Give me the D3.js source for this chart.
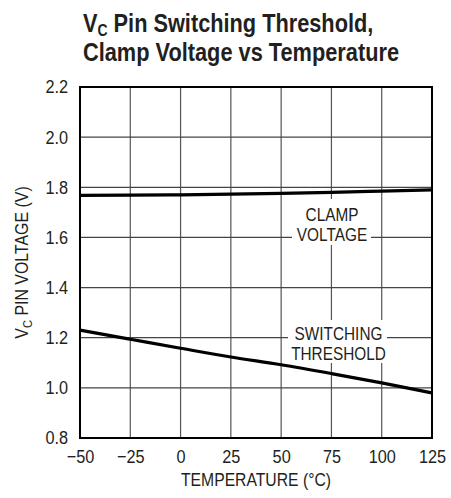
<!DOCTYPE html>
<html><head><meta charset="utf-8">
<script src="https://cdn.jsdelivr.net/npm/d3@7"></script>
<style>
html,body{margin:0;padding:0;background:#fff;}
svg{display:block;}
text{font-family:"Liberation Sans",Arial,Helvetica,sans-serif;fill:#231f20;}
</style></head>
<body>
<script>
const temps = [-50, -25, 0, 25, 50, 75, 100, 125];
const clampVoltage = [1.768, 1.769, 1.770, 1.773, 1.776, 1.780, 1.785, 1.790];
const switchingThreshold = [1.230, 1.194, 1.158, 1.123, 1.092, 1.057, 1.020, 0.980];
const xTicks = [-50, -25, 0, 25, 50, 75, 100, 125];
const yTicks = [0.8, 1.0, 1.2, 1.4, 1.6, 1.8, 2.0, 2.2];

const W = 451, H = 498;
const m = {left: 80, right: 19, top: 87, bottom: 60};
const svg = d3.select("body").append("svg").attr("width", W).attr("height", H);

const x = d3.scaleLinear().domain([-50, 125]).range([m.left, W - m.right]);
const y = d3.scaleLinear().domain([0.8, 2.2]).range([H - m.bottom, m.top]);

// grid
const grid = svg.append("g");
grid.selectAll(".vg").data(xTicks.slice(1, -1)).join("line")
  .attr("x1", d => x(d)).attr("x2", d => x(d))
  .attr("y1", y(2.2)).attr("y2", y(0.8))
  .attr("stroke", "#555").attr("stroke-width", 1.2);
grid.selectAll(".hg").data(yTicks.slice(1, -1)).join("line")
  .attr("x1", x(-50)).attr("x2", x(125))
  .attr("y1", d => y(d)).attr("y2", d => y(d))
  .attr("stroke", "#444").attr("stroke-width", 1.2);

// data lines
const line = d3.line().x((d, i) => x(temps[i])).y(d => y(d)).curve(d3.curveMonotoneX);
svg.append("path").datum(clampVoltage).attr("d", line)
  .attr("fill", "none").attr("stroke", "#000").attr("stroke-width", 3.2);
svg.append("path").datum(switchingThreshold).attr("d", line)
  .attr("fill", "none").attr("stroke", "#000").attr("stroke-width", 3.2);

// narrow text helper
function ntext(px, py, str, size, sx, anchor) {
  const g = svg.append("g").attr("transform", `translate(${px},${py}) scale(${sx},1)`);
  return g.append("text").attr("x", 0).attr("y", 0).attr("text-anchor", anchor || "middle")
    .style("font-size", size + "px").text(str);
}

// annotation masks + labels
function label(lines, cx, y0, gap, box) {
  svg.append("rect").attr("x", box[0]).attr("y", box[1]).attr("width", box[2]).attr("height", box[3]).attr("fill", "#fff");
  lines.forEach((t, i) => ntext(cx, y0 + i * gap, t, 18.5, 0.83));
}
label(["CLAMP", "VOLTAGE"], 332, 221, 20, [292, 199, 79, 46]);
label(["SWITCHING", "THRESHOLD"], 338.5, 339.5, 20.5, [288, 320, 99, 43]);

// frame
svg.append("rect").attr("x", x(-50)).attr("y", y(2.2))
  .attr("width", x(125) - x(-50)).attr("height", y(0.8) - y(2.2))
  .attr("fill", "none").attr("stroke", "#000").attr("stroke-width", 2);

// axes
const SX = 0.88;
const xAxis = svg.append("g").attr("transform", `translate(0,${y(0.8)})`)
  .call(d3.axisBottom(x).tickValues(xTicks).tickSize(0).tickPadding(12)
    .tickFormat(d => d < 0 ? "\u2212" + Math.abs(d) : d));
const yAxis = svg.append("g").attr("transform", `translate(${x(-50)},0)`)
  .call(d3.axisLeft(y).tickValues(yTicks).tickSize(0).tickPadding(12).tickFormat(d3.format(".1f")));
[xAxis, yAxis].forEach(a => {
  a.select(".domain").remove();
  a.attr("font-family", null).attr("font-size", null);
  a.selectAll("text").style("font-size", "18.5px").attr("fill", "#231f20")
    .attr("transform", `scale(${SX},1)`);
});
yAxis.selectAll("text").attr("x", -12 / SX);

// axis titles
svg.append("text").attr("x", (x(-50) + x(125)) / 2).attr("y", 486).attr("text-anchor", "middle")
  .attr("textLength", 150).attr("lengthAdjust", "spacingAndGlyphs")
  .style("font-size", "18.5px").text("TEMPERATURE (\u00B0C)");
const yt = svg.append("g").attr("transform", `translate(28,${(y(0.8) + y(2.2)) / 2}) rotate(-90) scale(0.86,1)`)
  .append("text").attr("text-anchor", "middle").style("font-size", "18.5px");
yt.append("tspan").text("V");
yt.append("tspan").attr("dy", 4).style("font-size", "13px").text("C");
yt.append("tspan").attr("dy", -4).text(" PIN VOLTAGE (V)");

// title
const t1 = svg.append("g").attr("transform", "translate(83,32) scale(0.87,1)")
  .append("text").style("font-size", "25px").style("font-weight", "bold");
t1.append("tspan").text("V");
t1.append("tspan").attr("dy", 3.5).style("font-size", "16px").text("C");
t1.append("tspan").attr("dy", -3.5).text(" Pin Switching Threshold,");
svg.append("text").attr("x", 83).attr("y", 61).style("font-size", "25px").style("font-weight", "bold")
  .attr("textLength", 316).attr("lengthAdjust", "spacingAndGlyphs")
  .text("Clamp Voltage vs Temperature");
</script>
</body></html>
